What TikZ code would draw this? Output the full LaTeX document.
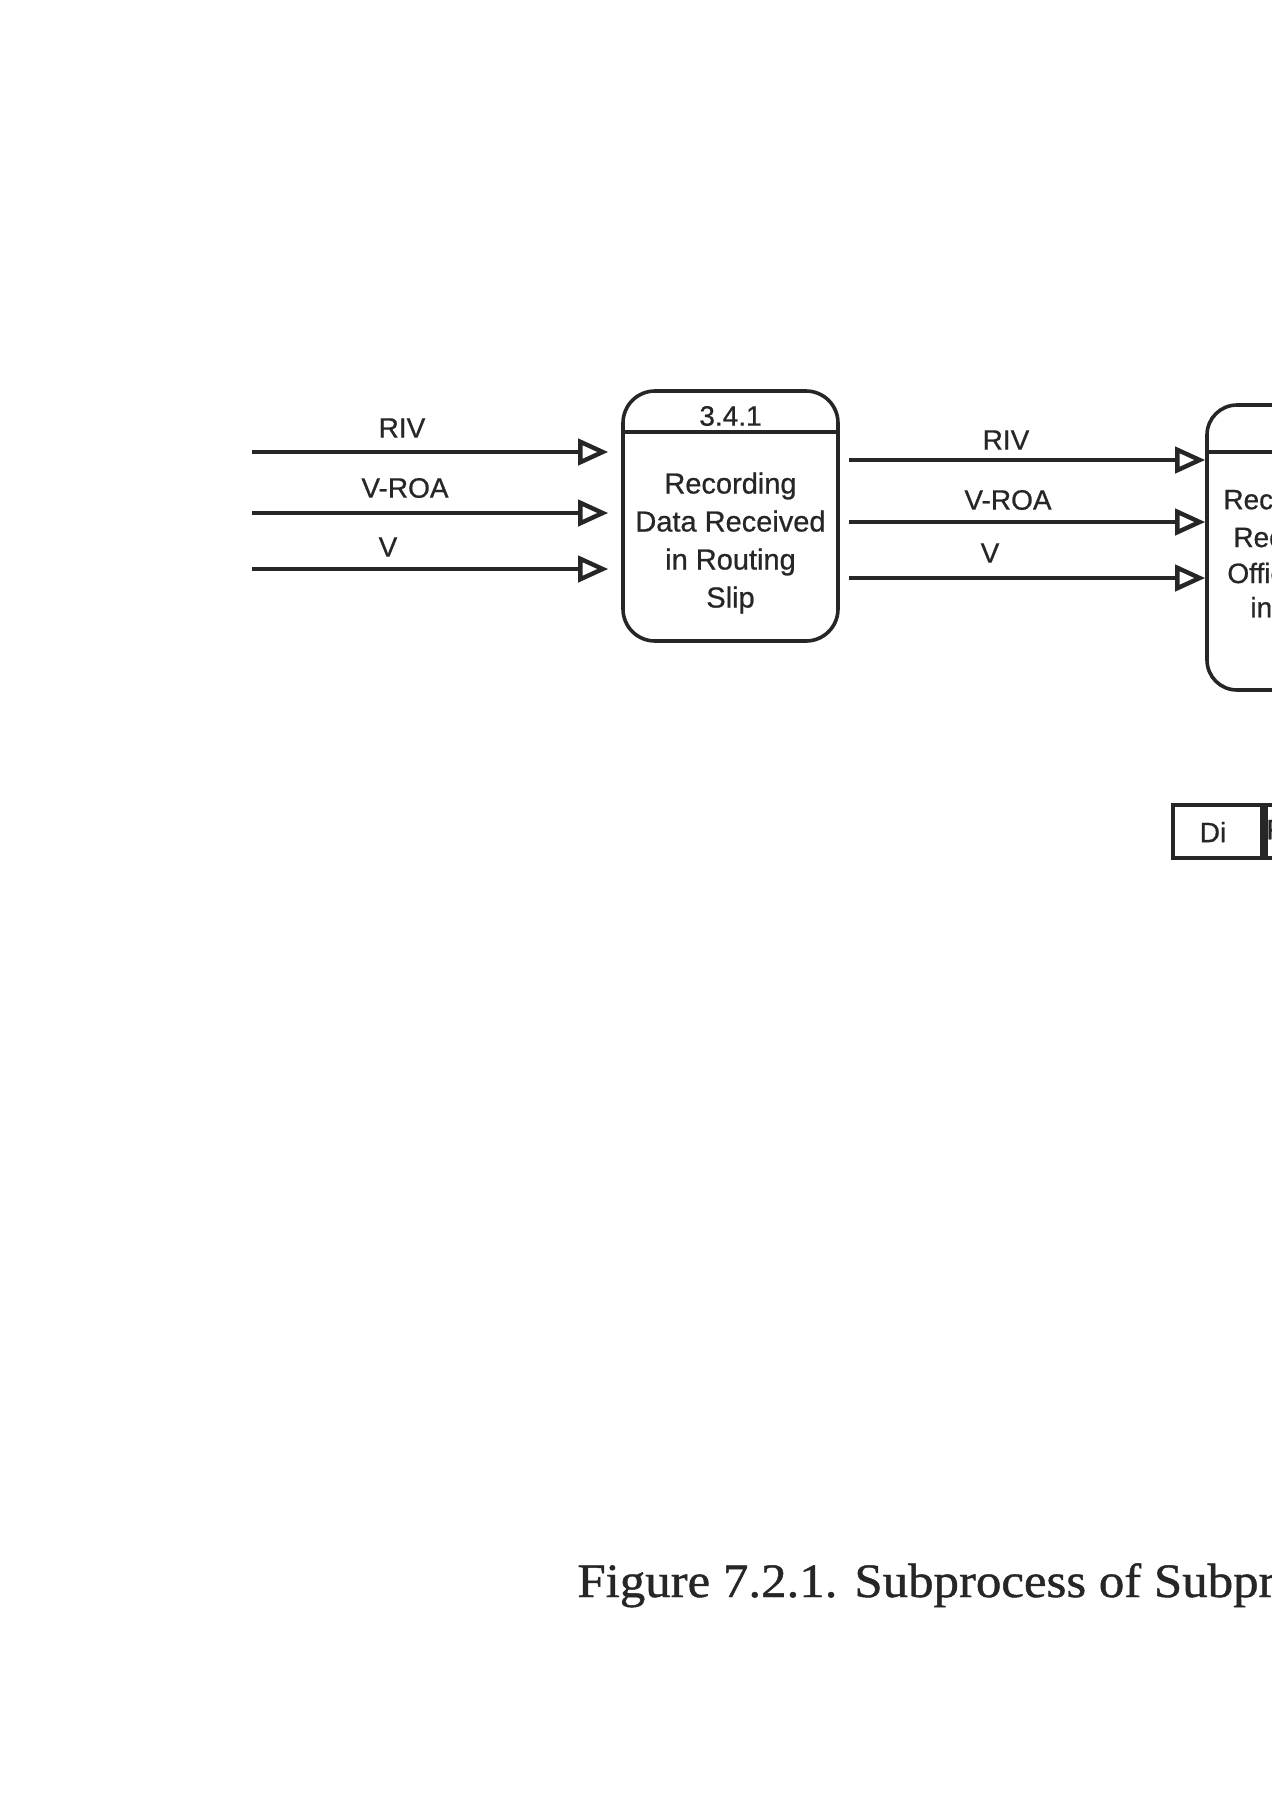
\documentclass[tikz,border=0pt]{standalone}
\usepackage{fontspec}
\setmainfont{Liberation Sans}
\newfontfamily\dfont{Liberation Sans}[FakeBold=0.7]
\newfontfamily\capfont{Liberation Serif}[FakeStretch=1.06, FakeBold=0.9]
\usetikzlibrary{arrows.meta}
\definecolor{ink}{HTML}{262626}
\begin{document}
\begin{tikzpicture}[x=0.5pt,y=-0.5pt,
  lbl/.style={font=\dfont\fontsize{14pt}{17pt}\selectfont, text=ink, inner sep=0pt},
  boxtxt/.style={font=\dfont\fontsize{14.5pt}{19pt}\selectfont, text=ink, inner sep=0pt, align=center},
  proc/.style={draw=ink, line width=1.8pt, rounded corners=16pt, minimum width=107.5pt, inner sep=0pt},
  store/.style={draw=ink, line width=1.9pt, minimum height=26.5pt, inner sep=0pt},
  flow/.style={draw=ink, line width=2pt, -{Triangle[open, length=15pt, width=13pt, line width=2.2pt]}},
  divline/.style={draw=ink, line width=1.8pt},
]
\useasboundingbox (0,0) rectangle (1272,1800);
\clip (0,0) rectangle (1272,1800);
\fill[white] (0,0) rectangle (1272,1800);

% process 3.4.1
\node[proc, minimum height=125pt] (b1) at (730.5,516) {};
\coordinate (dv1) at (0,432);
\draw[divline] (b1.west |- dv1) -- (b1.east |- dv1);
\node[lbl] (n1) at (730.5,416) {3.4.1};
\node[boxtxt] (t1) at (730.5,543) {Recording\\Data Received\\in Routing\\Slip};

% process 2 (cut off at the right edge)
\node[proc, minimum height=142.5pt, rounded corners=15pt] (b2) at (1314.5,547.5) {};
\coordinate (dv2) at (0,452);
\draw[divline] (b2.west |- dv2) -- (b2.east |- dv2);
\node[lbl, anchor=west] (t2a) at (1223,502) {Recording};
\node[lbl, anchor=west] (t2b) at (1233,537) {Received};
\node[lbl, anchor=west] (t2c) at (1227,573) {Office};
\node[lbl, anchor=west] (t2d) at (1250,610) {in Charge};

% incoming flows
\coordinate (i1) at (252,452);
\coordinate (i2) at (252,513);
\coordinate (i3) at (252,569);
\draw[flow, shorten >=6.5pt] (i1) -- (i1 -| b1.west);
\draw[flow, shorten >=6.5pt] (i2) -- (i2 -| b1.west);
\draw[flow, shorten >=6.5pt] (i3) -- (i3 -| b1.west);
\node[lbl] (l1) at (402,428) {RIV};
\node[lbl] (l2) at (405,488) {V-ROA};
\node[lbl] (l3) at (388,547) {V};

% flows between the processes
\coordinate (m1) at (0,460);
\coordinate (m2) at (0,522);
\coordinate (m3) at (0,578);
\draw[flow, shorten <=4.5pt] (m1 -| b1.east) -- (m1 -| b2.west);
\draw[flow, shorten <=4.5pt] (m2 -| b1.east) -- (m2 -| b2.west);
\draw[flow, shorten <=4.5pt] (m3 -| b1.east) -- (m3 -| b2.west);
\node[lbl] (k1) at (1006,440) {RIV};
\node[lbl] (k2) at (1008,500) {V-ROA};
\node[lbl] (k3) at (990,553) {V};

% data store
\node[store, minimum width=44.5pt] (d1) at (1217.5,831.5) {};
\node[lbl] (d1t) at (1213,832) {Di};
\node[store, minimum width=120pt, anchor=west] (d2) at (d1.east) {};
\node[lbl, anchor=west] (d2t) at (1266,832) {Routing Slip};

% caption
\node[anchor=base west, inner sep=0pt, text=ink, font=\capfont\fontsize{24pt}{28pt}\selectfont] (cap) at (577,1597) {Figure 7.2.1. Subprocess of Subprocess 3.4};
\end{tikzpicture}
\end{document}
